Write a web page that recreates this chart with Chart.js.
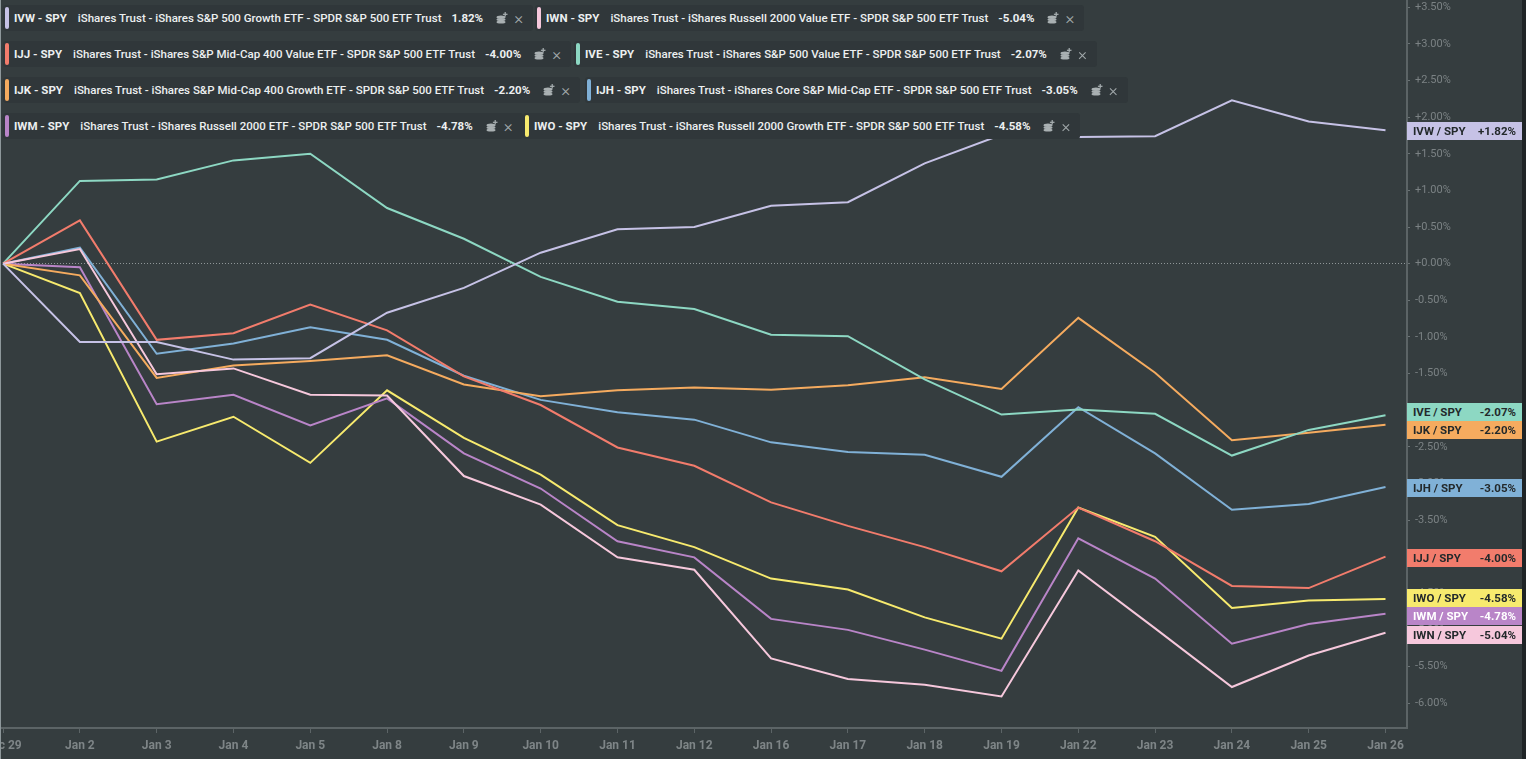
<!DOCTYPE html>
<html><head><meta charset="utf-8">
<script src="https://cdn.jsdelivr.net/npm/chart.js@4.4.1/dist/chart.umd.min.js"></script>
<style>
html,body{margin:0;padding:0;background:#353d3f;width:1526px;height:759px;overflow:hidden;font-family:Roboto,"Noto Sans",sans-serif;}
#c{position:absolute;left:0;top:0;}
#edge{position:absolute;left:1522px;top:0;width:4px;height:759px;background:#1f2426;}
#ledge{position:absolute;left:0;top:0;width:1px;height:759px;background:#8e989b;}
.leg{position:absolute;height:26px;background:#30373a;border-radius:3px;display:flex;align-items:center;white-space:nowrap;color:#eceff0;font-size:11.5px;font-weight:500;padding-right:10px;}
.leg .bar{width:4px;height:22px;border-radius:2px;margin:0 5px 0 2px;}
.leg .tk{font-weight:700;margin-right:11px}
.leg .val{margin-left:10px;font-weight:700}
.leg svg{margin-left:13px}
.leg .x{margin-left:6px;color:#a3aaac;font-size:17px;font-weight:300;line-height:15px}
.lab{position:absolute;left:1407px;width:115px;height:18px;display:flex;justify-content:space-between;align-items:center;box-sizing:border-box;padding:0 6px 0 6px;font-size:11.5px;font-weight:700;color:#23292b}
</style>
</head><body>
<canvas id="c" width="1526" height="759"></canvas>
<div id="ledge"></div><div id="edge"></div>
<script>
const dates = ['Dec 29','Jan 2','Jan 3','Jan 4','Jan 5','Jan 8','Jan 9','Jan 10','Jan 11','Jan 12','Jan 16','Jan 17','Jan 18','Jan 19','Jan 22','Jan 23','Jan 24','Jan 25','Jan 26'];
const IVW = [0,-1.07,-1.07,-1.31,-1.29,-0.67,-0.33,0.15,0.47,0.50,0.79,0.84,1.37,1.76,1.73,1.74,2.23,1.94,1.82];
const IWN = [0,0.20,-1.51,-1.43,-1.79,-1.80,-2.90,-3.29,-4.01,-4.18,-5.39,-5.67,-5.75,-5.91,-4.19,-4.98,-5.78,-5.35,-5.04];
const IJJ = [0,0.59,-1.04,-0.95,-0.56,-0.91,-1.54,-1.93,-2.51,-2.76,-3.26,-3.58,-3.87,-4.20,-3.33,-3.79,-4.40,-4.43,-4.00];
const IVE = [0,1.13,1.15,1.41,1.50,0.76,0.34,-0.18,-0.52,-0.62,-0.97,-0.99,-1.58,-2.06,-1.99,-2.05,-2.62,-2.27,-2.07];
const IJK = [0,-0.16,-1.56,-1.39,-1.33,-1.25,-1.65,-1.81,-1.73,-1.69,-1.72,-1.66,-1.55,-1.71,-0.74,-1.49,-2.41,-2.31,-2.20];
const IJH = [0,0.22,-1.23,-1.09,-0.87,-1.04,-1.53,-1.86,-2.03,-2.13,-2.44,-2.57,-2.61,-2.91,-1.96,-2.59,-3.36,-3.28,-3.05];
const IWM = [0,-0.05,-1.92,-1.79,-2.21,-1.84,-2.59,-3.07,-3.79,-4.01,-4.85,-5.00,-5.27,-5.56,-3.75,-4.30,-5.19,-4.92,-4.78];
const IWO = [0,-0.40,-2.43,-2.09,-2.72,-1.73,-2.38,-2.88,-3.57,-3.87,-4.30,-4.45,-4.83,-5.12,-3.33,-3.73,-4.70,-4.60,-4.58];
const yTickValues = [3.5,3,2.5,2,1.5,1,0.5,0,-0.5,-1,-1.5,-2,-2.5,-3,-3.5,-4,-4.5,-5,-5.5,-6];
const tickers = ['IVW','IWN','IJJ','IVE','IJK','IJH','IWM','IWO'];
const fundNames = {
  IVW:'iShares Trust - iShares S&P 500 Growth ETF - SPDR S&P 500 ETF Trust',
  IWN:'iShares Trust - iShares Russell 2000 Value ETF - SPDR S&P 500 ETF Trust',
  IJJ:'iShares Trust - iShares S&P Mid-Cap 400 Value ETF - SPDR S&P 500 ETF Trust',
  IVE:'iShares Trust - iShares S&P 500 Value ETF - SPDR S&P 500 ETF Trust',
  IJK:'iShares Trust - iShares S&P Mid-Cap 400 Growth ETF - SPDR S&P 500 ETF Trust',
  IJH:'iShares Trust - iShares Core S&P Mid-Cap ETF - SPDR S&P 500 ETF Trust',
  IWM:'iShares Trust - iShares Russell 2000 ETF - SPDR S&P 500 ETF Trust',
  IWO:'iShares Trust - iShares Russell 2000 Growth ETF - SPDR S&P 500 ETF Trust'
};
const seriesData = {IVW,IWN,IJJ,IVE,IJK,IJH,IWM,IWO};
const colors = {IVW:'#c6c2e6',IWN:'#f6c8dc',IJJ:'#f27c6c',IVE:'#8dd8c3',IJK:'#f5ab5f',IJH:'#80b1d7',IWM:'#b985c8',IWO:'#f7ea6e'};
const legendRows = [['IVW','IWN'],['IJJ','IVE'],['IJK','IJH'],['IWM','IWO']];
const legendLefts = [[3,535],[3,574],[3,585],[3,523]];

const fmtPct = v => (v>=0? '+' : '') + v.toFixed(2) + '%';

const chart = new Chart(document.getElementById('c'), {
  type:'line',
  data:{datasets: tickers.map(t => ({
    label:t, data: seriesData[t].map((v,i)=>({x:i,y:v})),
    borderColor:colors[t], borderWidth:2, pointRadius:0, tension:0, fill:false
  }))},
  options:{
    responsive:false, animation:false, devicePixelRatio:1,
    layout:{padding:0},
    plugins:{legend:{display:false}, tooltip:{enabled:false}},
    scales:{
      x:{type:'linear', min:-0.04, max:18.28,
        afterBuildTicks:s=>{s.ticks = dates.map((_,i)=>({value:i}));},
        afterFit:s=>{s.height=31; s.paddingLeft=0; s.paddingRight=0;},
        ticks:{callback:v=>dates[v], color:'#7e8587', font:{family:'Roboto',size:12,weight:'bold'}, maxRotation:0, autoSkip:false, padding:6},
        grid:{drawOnChartArea:false, color:'#5c6466', tickColor:'#5c6466', tickLength:5},
        border:{color:'#5c6466', width:2}
      },
      y:{position:'right', min:-6.34, max:3.60,
        afterBuildTicks:s=>{s.ticks = yTickValues.map(v=>({value:v}));},
        afterFit:s=>{s.width=119; s.paddingTop=0; s.paddingBottom=0;},
        ticks:{callback:v=>fmtPct(v), color:'#7b8284', font:{family:'Roboto',size:11}, padding:5},
        grid:{color:c=>(c.tick && c.tick.value===0)?'#8f9698':'rgba(0,0,0,0)', lineWidth:1, tickColor:'#6a7274', tickLength:3},
        border:{color:'#5c6466', width:2, dash:[1,2]}
      }
    }
  }
});

// legend boxes
const coin = '<svg width="12" height="12" viewBox="0 0 12 12"><g fill="#a9b0b2"><ellipse cx="5" cy="10" rx="4.5" ry="1.6"/><ellipse cx="5" cy="7.6" rx="4.5" ry="1.6"/><ellipse cx="5" cy="5.2" rx="4.5" ry="1.6"/><rect x="8.6" y="0" width="1.2" height="4.5"/><rect x="6.9" y="1.7" width="4.6" height="1.2"/></g></svg>';
legendRows.forEach((row,r)=>{
  row.forEach((t,k)=>{
    const d = document.createElement('div');
    d.className='leg';
    d.style.left = legendLefts[r][k]+'px';
    d.style.top = (5+36*r)+'px';
    const last = seriesData[t][seriesData[t].length-1];
    d.innerHTML = '<span class="bar" style="background:'+colors[t]+'"></span><span class="tk">'+t+' - SPY</span><span>'+fundNames[t].replace(/&/g,'&amp;')+'</span><span class="val">'+last.toFixed(2)+'%</span>'+coin+'<span class="x">×</span>';
    document.body.appendChild(d);
  });
});

// right value labels
const ys = chart.scales.y;
const items = tickers.map(t=>{const v=seriesData[t][seriesData[t].length-1]; return {t, v, y: ys.getPixelForValue(v)+1};}).sort((a,b)=>a.y-b.y);
const H = 18.5;
for (let it=0; it<30; it++){
  for (let i=1;i<items.length;i++){
    const gap = items[i].y - items[i-1].y;
    if (gap < H){ const d=(H-gap)/2; items[i].y+=d; items[i-1].y-=d; }
  }
}
items.forEach(o=>{
  const d = document.createElement('div');
  d.className='lab';
  d.style.top = (o.y-9)+'px';
  d.style.background = colors[o.t];
  if (o.t==='IWM') d.style.color='#ffffff';
  d.innerHTML = '<span>'+o.t+' / SPY</span><span>'+fmtPct(o.v)+'</span>';
  document.body.appendChild(d);
});
</script>
</body></html>
